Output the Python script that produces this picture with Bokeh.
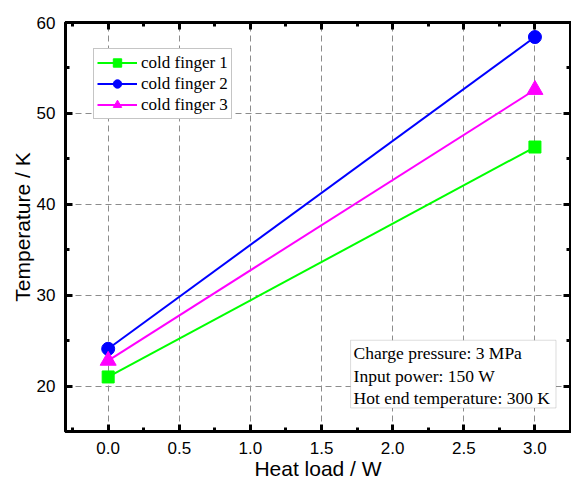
from bokeh.plotting import figure
from bokeh.models import (LinearAxis, Legend, LegendItem, BoxAnnotation, Label,
                          Range1d, FixedTicker, CustomJSTickFormatter)
from bokeh.embed import file_html
from bokeh.resources import INLINE

# Cold-finger temperature versus applied heat load
heat_load = [0.0, 3.0]
finger_1 = [21.0, 46.3]
finger_2 = [24.1, 58.4]
finger_3 = [22.8, 52.6]
series_names = ["cold finger 1", "cold finger 2", "cold finger 3"]
series_colors = ["#00ff00", "#0000ff", "#ff00ff"]
series_markers = ["square", "circle", "triangle"]
series_sizes = [12, 13, 16]

x_ticks = [0.0, 0.5, 1.0, 1.5, 2.0, 2.5, 3.0]
y_ticks = [20, 30, 40, 50, 60]
info_lines = ["Charge pressure: 3 MPa", "Input power: 150 W",
              "Hot end temperature: 300 K"]

SANS = "Liberation Sans"
SERIF = "Liberation Serif"

# x minor ticks every 0.25, y minor ticks every 5
x_minor = [i * 0.25 for i in range(-1, 14)]
y_minor = list(range(15, 61, 5))

p = figure(width=571, height=482, output_backend="svg", toolbar_location=None,
           x_range=Range1d(-0.3, 3.25), y_range=Range1d(15, 60),
           min_border_left=65, min_border_right=1, min_border_top=22,
           min_border_bottom=50)
p.outline_line_color = "black"
p.outline_line_width = 3
p.background_fill_color = "white"
p.border_fill_color = "white"


def tick_style(ax):
    ax.axis_line_width = 3
    ax.axis_line_color = "black"
    ax.major_tick_line_width = 3
    ax.minor_tick_line_width = 3
    ax.major_tick_in = 7
    ax.major_tick_out = 0
    ax.minor_tick_in = 4
    ax.minor_tick_out = 0


p.xaxis.ticker = FixedTicker(ticks=x_ticks, minor_ticks=x_minor)
p.yaxis.ticker = FixedTicker(ticks=y_ticks, minor_ticks=y_minor)
for ax in [p.xaxis[0], p.yaxis[0]]:
    tick_style(ax)
    ax.major_label_text_font = SANS
    ax.major_label_text_font_size = "17px"
    ax.major_label_text_color = "black"
    ax.axis_label_text_font = SANS
    ax.axis_label_text_font_size = "21px"
    ax.axis_label_text_font_style = "normal"
    ax.axis_label_text_color = "black"
    ax.major_label_standoff = 10
    ax.axis_label_standoff = 0

p.xaxis.axis_label = "Heat load / W"
p.yaxis.axis_label = "Temperature / K"
p.xaxis.major_label_overrides = {t: f"{t:.1f}" for t in x_ticks}

# mirrored axes on top and right: ticks only, no labels
for side, ticks, minor in [("above", x_ticks, x_minor), ("right", y_ticks, y_minor)]:
    ax = LinearAxis(ticker=FixedTicker(ticks=ticks, minor_ticks=minor),
                    formatter=CustomJSTickFormatter(code="return ''"))
    tick_style(ax)
    ax.major_label_standoff = 0
    p.add_layout(ax, side)

p.xgrid.ticker = FixedTicker(ticks=x_ticks)
p.ygrid.ticker = FixedTicker(ticks=y_ticks)
for g in [p.xgrid[0], p.ygrid[0]]:
    g.grid_line_color = "#8c8c8c"
    g.grid_line_dash = "6 4"
    g.grid_line_width = 1

items = []
for ys, name, color, marker, size in zip([finger_1, finger_2, finger_3], series_names,
                                         series_colors, series_markers, series_sizes):
    ln = p.line(heat_load, ys, line_color=color, line_width=2)
    sc = p.scatter(heat_load, ys, marker=marker, size=size, fill_color=color,
                   line_color=color)
    items.append(LegendItem(label=name, renderers=[ln, sc]))

legend = Legend(items=items, location=(28, 312), orientation="vertical",
                label_text_font=SERIF, label_text_font_size="17px",
                label_text_color="black", glyph_width=40, glyph_height=21,
                label_height=21, spacing=0, padding=3, margin=0,
                label_standoff=4,
                border_line_color="#8c8c8c", border_line_width=1,
                background_fill_color="white", background_fill_alpha=1)
p.add_layout(legend, "center")

# operating conditions box
p.add_layout(BoxAnnotation(left=1.704, right=3.148, bottom=17.59, top=25.04,
                           fill_color="white", fill_alpha=1,
                           line_color="#8c8c8c", line_width=1))
for txt, yy in zip(info_lines, [23.62, 21.1, 18.68]):
    p.add_layout(Label(x=1.725, y=yy, text=txt, text_font=SERIF,
                       text_font_size="17.5px", text_color="black",
                       text_baseline="middle", text_align="left"))

open("out.html", "w").write(file_html(p, INLINE))
